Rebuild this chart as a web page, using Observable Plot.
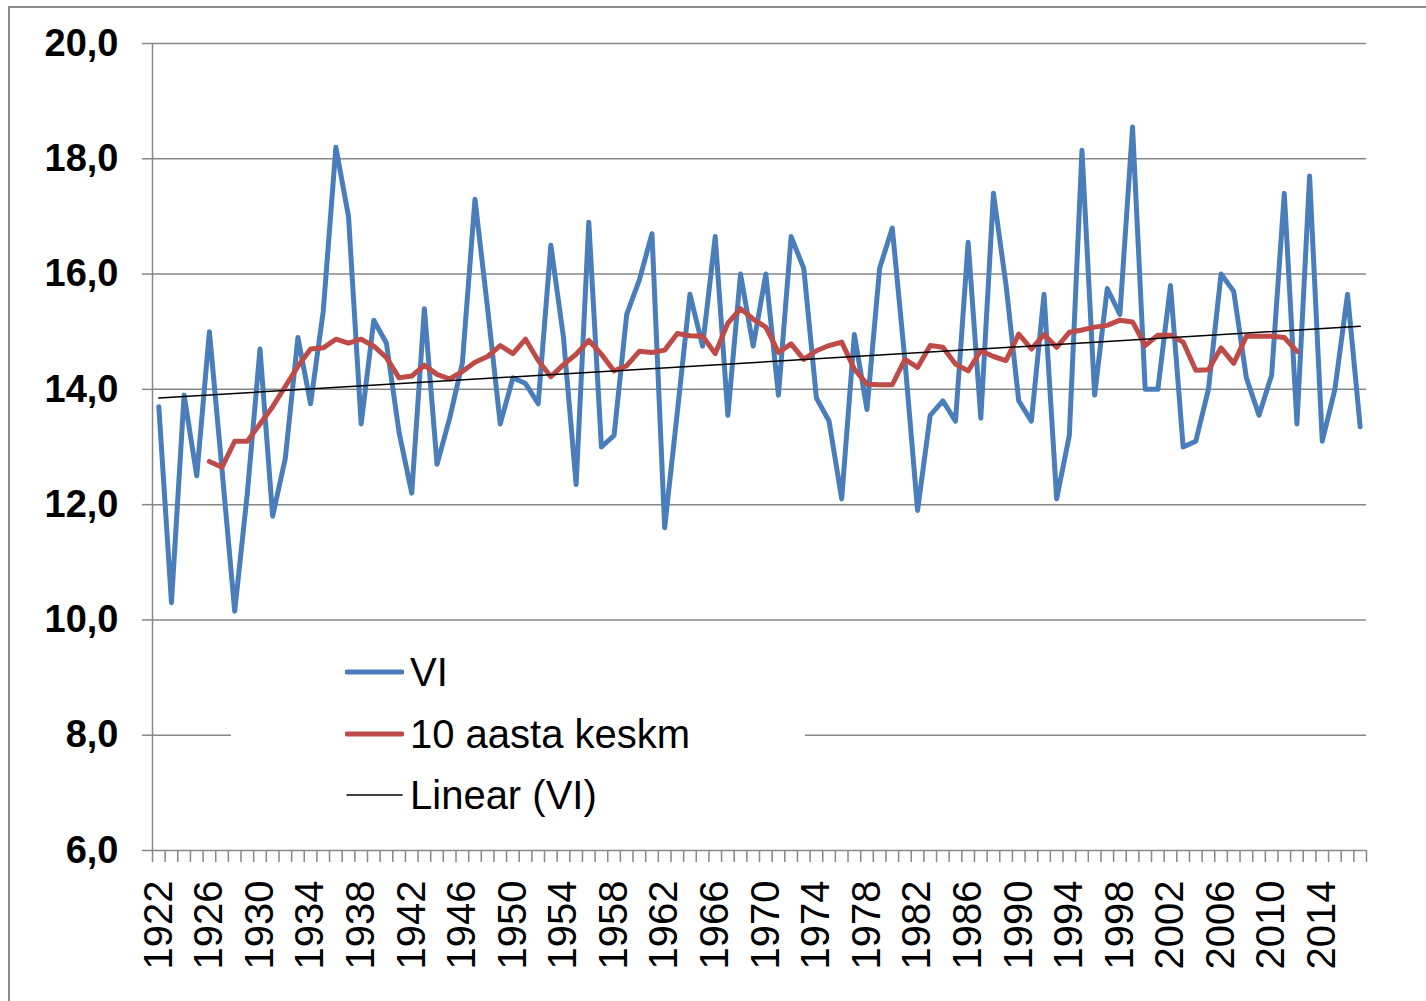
<!DOCTYPE html>
<html>
<head>
<meta charset="utf-8">
<script src="https://cdn.jsdelivr.net/npm/d3@7"></script>
<script src="https://cdn.jsdelivr.net/npm/@observablehq/plot@0.6"></script>
<style>
  html, body { margin: 0; padding: 0; background: #fff; overflow: hidden; }
  #wrap { position: relative; width: 1426px; height: 1001px; overflow: hidden; font-family: "Liberation Sans", Arial, sans-serif; }
  #frame { position: absolute; left: 8px; top: 6px; width: 1600px; height: 1200px; border: 2px solid #8c8c8c; box-sizing: border-box; }
  #chart { position: absolute; left: 0; top: 0; }
  #legend { position: absolute; left: 231px; top: 640px; width: 574px; height: 190px; background: #fff; }
  .row { position: absolute; left: 114px; height: 44px; display: flex; align-items: center; font-size: 40px; color: #000; white-space: nowrap; }
  .row svg { margin-right: 6px; }
</style>
</head>
<body>
<div id="wrap">
  <div id="frame"></div>
  <div id="chart"></div>
  <div id="legend"></div>
</div>
<script>
// Categories
const years = d3.range(1922, 2018);
// June mean temperature (VI)
const vi = [
  13.7, 10.3, 13.9, 12.5, 15.0, 12.6, 10.15, 12.2, 14.7, 11.8,
  12.8, 14.9, 13.75, 15.35, 18.2, 17.0, 13.4, 15.2, 14.8, 13.25,
  12.2, 15.4, 12.7, 13.5, 14.45, 17.3, 15.4, 13.4, 14.2, 14.1,
  13.75, 16.5, 14.9, 12.35, 16.9, 13.0, 13.2, 15.3, 15.9, 16.7,
  11.6, 13.6, 15.65, 14.75, 16.65, 13.55, 16.0, 14.75, 16.0, 13.9,
  16.65, 16.1, 13.85, 13.45, 12.1, 14.95, 13.65, 16.1, 16.8, 14.5,
  11.9, 13.55, 13.8, 13.45, 16.55, 13.5, 17.4, 15.8, 13.8, 13.45,
  15.65, 12.1, 13.2, 18.15, 13.9, 15.75, 15.3, 18.55, 14.0, 14.0,
  15.8, 13.0, 13.1, 14.0, 16.0, 15.7, 14.2, 13.55, 14.25, 17.4,
  13.4, 17.7, 13.1, 14.0, 15.65, 13.35
];
// 10-year average (1926..2012)
const avgYears = d3.range(1926, 2013);
const avg = [
  12.75, 12.65, 13.1, 13.1, 13.4, 13.7, 14.05, 14.4, 14.7, 14.72,
  14.87, 14.8, 14.87, 14.75, 14.55, 14.2, 14.23, 14.42, 14.26, 14.18,
  14.31, 14.47, 14.57, 14.76, 14.62, 14.87, 14.5, 14.22, 14.43, 14.61,
  14.85, 14.61, 14.32, 14.41, 14.66, 14.64, 14.68, 14.97, 14.93, 14.92,
  14.62, 15.15, 15.4, 15.22, 15.08, 14.64, 14.79, 14.52, 14.67, 14.76,
  14.82, 14.35, 14.09, 14.08, 14.08, 14.52, 14.38, 14.76, 14.73, 14.44,
  14.32, 14.67, 14.57, 14.5, 14.96, 14.7, 14.95, 14.73, 14.99, 15.03,
  15.08, 15.11, 15.2, 15.17, 14.76, 14.94, 14.94, 14.82, 14.33, 14.34,
  14.72, 14.45, 14.92, 14.92, 14.92, 14.9, 14.66
];
// Tick labels
const yTicks = [6, 8, 10, 12, 14, 16, 18, 20];
const xLabelYears = d3.range(1922, 2015, 4);
const seriesNames = ["VI", "10 aasta keskm", "Linear (VI)"];
const seriesColors = ["#4A7EBB", "#BE4B48", "#000000"];

const data = years.map((yr, i) => ({year: yr, vi: vi[i]}));
const avgData = avgYears.map((yr, i) => ({year: yr, avg: avg[i]}));
const xDomain = [years[0] - 0.5, years[years.length - 1] + 0.5];
const bounds = years.map(y => y - 0.5).concat([xDomain[1]]);
const grid = "#878787";
const fmt = d => d.toFixed(1).replace(".", ",");

const chart = Plot.plot({
  width: 1426,
  height: 1001,
  marginLeft: 152,
  marginRight: 60,
  marginTop: 43,
  marginBottom: 151,
  style: {fontFamily: "'Liberation Sans', Arial, sans-serif", color: "#000", background: "transparent", overflow: "visible"},
  x: {domain: xDomain, label: null},
  y: {domain: [6, 20], label: null},
  marks: [
    Plot.gridY(yTicks, {stroke: grid, strokeOpacity: 1, strokeWidth: 1.5}),
    Plot.ruleX([xDomain[0]], {stroke: grid, strokeWidth: 1.5}),
    Plot.axisY(yTicks, {tickSize: 10, tickPadding: 24, fontSize: 38, fontWeight: "bold", tickFormat: fmt, stroke: grid, strokeWidth: 1.5}),
    Plot.axisX(bounds, {tickSize: 12, tickFormat: () => "", stroke: grid, strokeWidth: 1.5}),
    Plot.axisX(xLabelYears, {tickSize: 0, tickPadding: 30, tickRotate: -90, fontSize: 40, tickFormat: d => String(d)}),
    Plot.line(data, {x: "year", y: "vi", stroke: seriesColors[0], strokeWidth: 5}),
    Plot.line(avgData, {x: "year", y: "avg", stroke: seriesColors[1], strokeWidth: 5}),
    Plot.linearRegressionY(data, {x: "year", y: "vi", stroke: seriesColors[2], strokeWidth: 1.5, ci: 0})
  ]
});
document.getElementById("chart").appendChild(chart);

// Legend
const legend = document.getElementById("legend");
const rowTops = [10, 72, 133];
const widths = [5, 5, 1.5];
seriesNames.forEach((name, i) => {
  const row = document.createElement("div");
  row.className = "row";
  row.style.top = rowTops[i] + "px";
  row.innerHTML = `<svg width="59" height="10"><line x1="2" x2="57" y1="5" y2="5" stroke="${seriesColors[i]}" stroke-width="${widths[i]}" stroke-linecap="round"/></svg><span>${name}</span>`;
  legend.appendChild(row);
});
</script>
</body>
</html>
